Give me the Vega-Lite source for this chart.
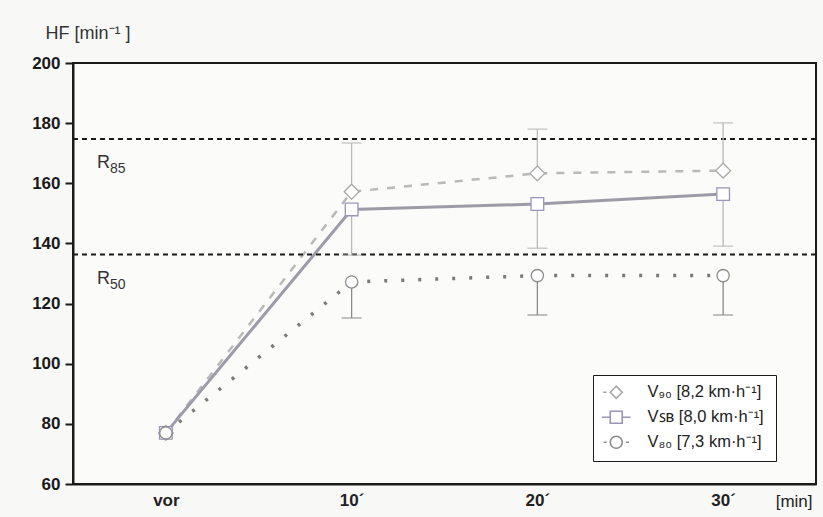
{
  "$schema": "https://vega.github.io/schema/vega-lite/v6.json",
  "width": 743,
  "height": 421,
  "autosize": {"type": "none"},
  "padding": {"left": 73, "top": 63, "right": 7, "bottom": 33},
  "background": "#f8f8f7",
  "config": {
    "font": "Liberation Sans",
    "view": {"stroke": "#1a1a1a", "strokeWidth": 2, "fill": "#fbfbfa"},
    "legend": {
      "orient": "none", "legendX": 520, "legendY": 312,
      "strokeColor": "#1a1a1a", "fillColor": "#ffffff", "padding": 9,
      "labelFont": "Liberation Sans", "labelFontSize": 16.5, "labelColor": "#222",
      "symbolSize": 144, "symbolStrokeWidth": 1.6, "symbolOffset": 6, "labelOffset": 23, "rowPadding": 6
    }
  },
  "datasets": {
    "hf": [
      {"series": "V90", "t": 0, "hf": 77, "bar": null},
      {"series": "V90", "t": 10, "hf": 157.2, "bar": 173.4},
      {"series": "V90", "t": 20, "hf": 163.3, "bar": 178},
      {"series": "V90", "t": 30, "hf": 164.2, "bar": 180.1},
      {"series": "VSB", "t": 0, "hf": 77, "bar": null},
      {"series": "VSB", "t": 10, "hf": 151.3, "bar": 136.1},
      {"series": "VSB", "t": 20, "hf": 153.1, "bar": 138.4},
      {"series": "VSB", "t": 30, "hf": 156.4, "bar": 139.1},
      {"series": "V80", "t": 0, "hf": 77, "bar": null},
      {"series": "V80", "t": 10, "hf": 127.2, "bar": 115.2},
      {"series": "V80", "t": 20, "hf": 129.3, "bar": 116.2},
      {"series": "V80", "t": 30, "hf": 129.3, "bar": 116.2}
    ],
    "ref": [
      {"name": "R85", "hf": 174.7, "base": "R", "sub": "85"},
      {"name": "R50", "hf": 136.3, "base": "R", "sub": "50"}
    ]
  },
  "layer": [
    {
      "data": {"name": "hf"},
      "mark": {"type": "line", "color": "#b9b9b9", "strokeWidth": 2.5, "strokeDash": [8, 9]},
      "transform": [{"filter": "datum.series === 'V90'"}],
      "encoding": {
        "x": {
          "field": "t", "type": "quantitative",
          "scale": {"domain": [-5, 35], "nice": false, "zero": false},
          "axis": {
            "values": [0, 10, 20, 30],
            "labelExpr": "datum.value === 0 ? 'vor' : datum.value + '´'",
            "ticks": false, "grid": false,
            "domainColor": "#1a1a1a", "domainWidth": 2,
            "labelFont": "Liberation Sans", "labelFontWeight": "bold", "labelFontSize": 17, "labelColor": "#222",
            "labelPadding": 8,
            "title": "[min]", "titleFont": "Liberation Sans", "titleFontWeight": "normal", "titleFontSize": 17, "titleColor": "#222",
            "titleAnchor": "end", "titleAlign": "right", "titleBaseline": "middle", "titleX": 739, "titleY": 17
          }
        },
        "y": {
          "field": "hf", "type": "quantitative",
          "scale": {"domain": [60, 200], "nice": false, "zero": false},
          "axis": {
            "values": [60, 70, 80, 90, 100, 110, 120, 130, 140, 150, 160, 170, 180, 190, 200],
            "labelExpr": "datum.value % 20 === 0 ? datum.label : ''",
            "tickSize": {"condition": {"test": "datum.value % 20 === 0", "value": 8}, "value": 4},
            "tickWidth": 2, "tickColor": "#1a1a1a", "grid": false,
            "domainColor": "#1a1a1a", "domainWidth": 2,
            "labelFont": "Liberation Sans", "labelFontWeight": "bold", "labelFontSize": 17, "labelColor": "#1a1a1a",
            "labelPadding": 5,
            "title": "HF [min⁻¹ ]", "titleFont": "Liberation Sans", "titleFontWeight": "normal", "titleFontSize": 18, "titleColor": "#333",
            "titleAngle": 0, "titleAlign": "left", "titleBaseline": "middle", "titleX": -28, "titleY": -30
          }
        }
      }
    },
    {
      "data": {"name": "hf"},
      "mark": {"type": "line", "color": "#9e9ba9", "strokeWidth": 3},
      "transform": [{"filter": "datum.series === 'VSB'"}],
      "encoding": {
        "x": {"field": "t", "type": "quantitative"},
        "y": {"field": "hf", "type": "quantitative"}
      }
    },
    {
      "data": {"name": "hf"},
      "mark": {"type": "line", "color": "#7a7a7a", "strokeWidth": 3.5, "strokeDash": [3, 14]},
      "transform": [{"filter": "datum.series === 'V80'"}],
      "encoding": {
        "x": {"field": "t", "type": "quantitative"},
        "y": {"field": "hf", "type": "quantitative"}
      }
    },
    {
      "data": {"name": "ref"},
      "mark": {"type": "rule", "color": "#1a1a1a", "strokeWidth": 2, "strokeDash": [5, 4]},
      "encoding": {
        "y": {"field": "hf", "type": "quantitative"}
      }
    },
    {
      "data": {"name": "hf"},
      "mark": {"type": "rule", "strokeWidth": 1.3},
      "transform": [{"filter": "datum.bar !== null"}],
      "encoding": {
        "x": {"field": "t", "type": "quantitative"},
        "y": {"field": "hf", "type": "quantitative"},
        "y2": {"field": "bar"},
        "color": {"condition": {"test": "datum.series === 'V80'", "value": "#8a8a8a"}, "value": "#b8b8b8"}
      }
    },
    {
      "data": {"name": "hf"},
      "mark": {"type": "tick", "orient": "horizontal", "size": 20, "thickness": 1.5},
      "transform": [{"filter": "datum.bar !== null"}],
      "encoding": {
        "x": {"field": "t", "type": "quantitative"},
        "y": {"field": "bar", "type": "quantitative"},
        "color": {"condition": {"test": "datum.series === 'V80'", "value": "#8a8a8a"}, "value": "#b8b8b8"}
      }
    },
    {
      "data": {"name": "hf"},
      "mark": {"type": "point", "filled": false, "fill": "white", "strokeWidth": 1.3, "opacity": 1},
      "encoding": {
        "x": {"field": "t", "type": "quantitative"},
        "y": {"field": "hf", "type": "quantitative"},
        "shape": {"condition": [{"test": "datum.series === 'V90'", "value": "diamond"}, {"test": "datum.series === 'VSB'", "value": "square"}], "value": "circle"},
        "size": {"condition": [{"test": "datum.series === 'V90'", "value": 220}, {"test": "datum.series === 'VSB'", "value": 160}], "value": 150},
        "stroke": {"field": "series", "type": "nominal",
          "scale": {"domain": ["V90", "VSB", "V80"], "range": ["#a8a8a8", "#9a94b8", "#8c8c8c"]},
          "legend": {
            "title": null,
            "labelExpr": "datum.value === 'V90' ? 'V₉₀  [8,2 km·h⁻¹]' : datum.value === 'VSB' ? 'Vꜱʙ [8,0 km·h⁻¹]' : 'V₈₀  [7,3 km·h⁻¹]'"
          }
        }
      }
    },
    {
      "data": {"name": "hf"},
      "mark": {"type": "point", "filled": false, "size": 144, "strokeWidth": 1.6},
      "transform": [{"filter": "datum.t < 0"}],
      "encoding": {
        "x": {"field": "t", "type": "quantitative"},
        "y": {"field": "hf", "type": "quantitative"},
        "stroke": {"field": "series", "type": "nominal",
          "legend": {
            "title": null,
            "labelExpr": "datum.value === 'V90' ? 'V₉₀  [8,2 km·h⁻¹]' : datum.value === 'VSB' ? 'Vꜱʙ [8,0 km·h⁻¹]' : 'V₈₀  [7,3 km·h⁻¹]'"
          }
        },
        "shape": {"field": "series", "type": "nominal",
          "scale": {"domain": ["V90", "VSB", "V80"], "range": [
            "M-2.2,0H-1.6M-1,0L0,-1L1,0L0,1Z",
            "M-2.4,0H-1M-1,-1H1V1H-1ZM1,0H2.4",
            "M-2.1,0H-1.6M-1,0A1,1 0 1,0 1,0A1,1 0 1,0 -1,0ZM1.6,0H2.1"
          ]},
          "legend": {
            "title": null,
            "labelExpr": "datum.value === 'V90' ? 'V₉₀  [8,2 km·h⁻¹]' : datum.value === 'VSB' ? 'Vꜱʙ [8,0 km·h⁻¹]' : 'V₈₀  [7,3 km·h⁻¹]'"
          }
        }
      }
    },
    {
      "data": {"name": "ref"},
      "mark": {"type": "text", "align": "left", "baseline": "middle", "dx": 24, "dy": 24, "fontSize": 18, "color": "#333"},
      "encoding": {
        "x": {"datum": -5, "type": "quantitative"},
        "y": {"field": "hf", "type": "quantitative"},
        "text": {"field": "base"}
      }
    },
    {
      "data": {"name": "ref"},
      "mark": {"type": "text", "align": "left", "baseline": "middle", "dx": 37, "dy": 30, "fontSize": 14, "color": "#333"},
      "encoding": {
        "x": {"datum": -5, "type": "quantitative"},
        "y": {"field": "hf", "type": "quantitative"},
        "text": {"field": "sub"}
      }
    }
  ]
}
